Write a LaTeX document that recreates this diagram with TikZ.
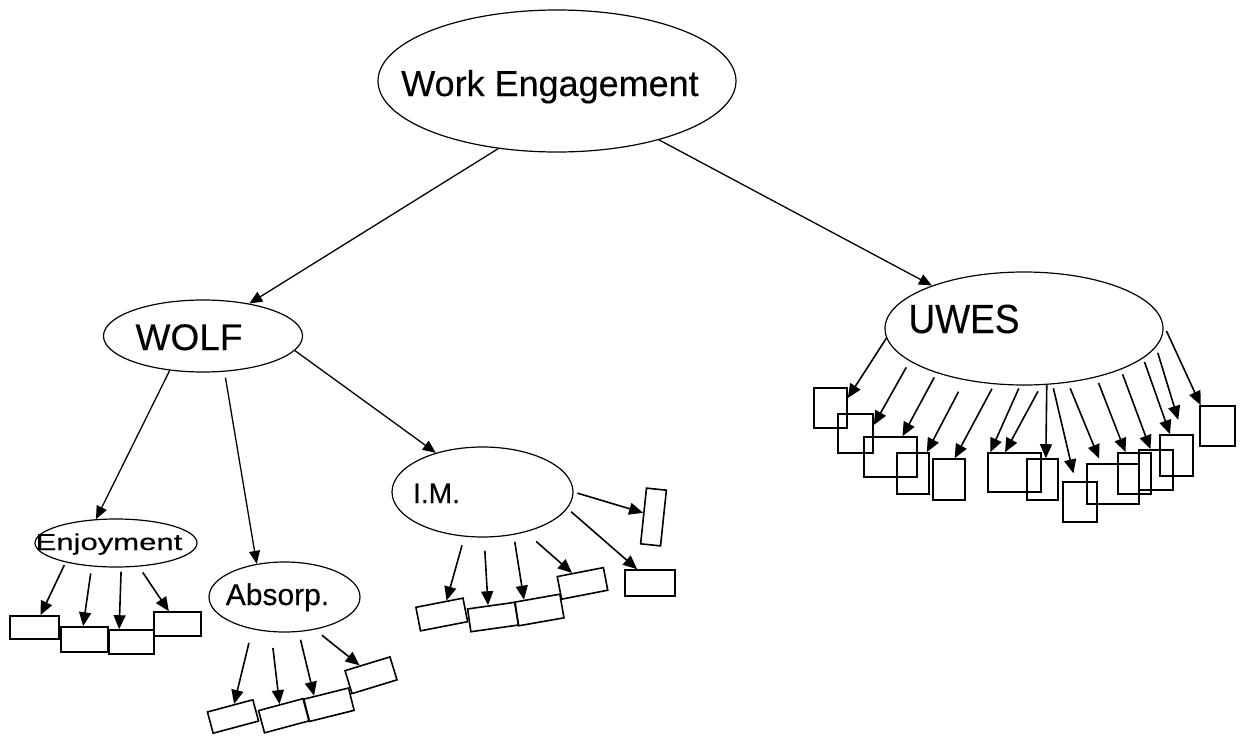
\documentclass[tikz,border=0pt]{standalone}
\usepackage{fontspec}
\setmainfont{Liberation Sans}[FakeBold=0.3]
\usepackage{tikz}
\usetikzlibrary{shapes,arrows.meta,positioning}

\tikzset{
  ell/.style={draw, ellipse, inner sep=0pt, line width=1.2pt},
  box/.style={draw, rectangle, inner sep=0pt, line width=1.6pt},
  arr/.style={-{Triangle[length=13pt,width=11pt]}, line width=1.3pt},
  subarr/.style={-{Triangle[length=14pt,width=12pt]}, line width=1.6pt},
  txt/.style={anchor=base, inner sep=0pt}
}

\begin{document}
\begin{tikzpicture}[x=1pt, y=-1pt]
\useasboundingbox (0,0) rectangle (1245,736);
% ellipses
\node[ell, minimum width=358pt, minimum height=142pt] (WE) at (557,81) {};
\node[txt, font=\fontsize{36}{40}\selectfont] (WEt) at (550,96) {Work Engagement};
\node[ell, minimum width=199pt, minimum height=72pt] (WOLF) at (203,336) {};
\node[txt, font=\fontsize{37}{40}\selectfont] (WOLFt) at (189,350) {WOLF};
\node[ell, minimum width=278pt, minimum height=113pt] (UWES) at (1024,328.5) {};
\node[txt] (UWESt) at (964,333) {\scalebox{1}[1.1]{\fontsize{37}{40}\selectfont UWES}};
\node[ell, minimum width=162pt, minimum height=48pt] (Enj) at (116,543) {};
\node[txt] (Enjt) at (109,550) {\scalebox{1.35}[1]{\fontsize{23}{26}\selectfont Enjoyment}};
\node[ell, minimum width=151pt, minimum height=70pt] (Abs) at (284.5,597) {};
\node[txt, font=\fontsize{30}{34}\selectfont] (Abst) at (277.5,605) {Absorp.};
\node[ell, minimum width=181pt, minimum height=90pt] (IM) at (482.5,492) {};
\node[txt, font=\fontsize{28}{32}\selectfont] (IMt) at (436.5,503) {I.M.};
% main arrows
\draw[arr] (WE.229) -- (WOLF.35);
\draw[arr] (WE.330) -- (UWES.155);
\draw[arr] (WOLF.226) -- (Enj.130);
\draw[arr, shorten <=6pt] (WOLF.301) -- (Abs.130);
\draw[arr] (WOLF.351) -- (IM.140);
% Enjoyment items
\node[box, minimum width=49pt, minimum height=23pt] (e1) at (34.5,627.5) {};
\node[box, minimum width=47pt, minimum height=25pt] (e2) at (84.5,639.5) {};
\node[box, minimum width=45pt, minimum height=24pt] (e3) at (131.5,642) {};
\node[box, minimum width=47pt, minimum height=24pt] (e4) at (177.5,624) {};
\draw[subarr, shorten <=3pt] (Enj.201) -- (e1.64);
\draw[subarr, shorten <=7pt] (Enj.224) -- (e2.96);
\draw[subarr, shorten <=4pt] (Enj.282) -- (e3.134);
\draw[subarr, shorten <=7pt] (Enj.314) -- (e4.124);
% Absorp. items
\node[box, minimum width=47pt, minimum height=22pt, rotate=15] (a1) at (233,716.5) {};
\node[box, minimum width=46pt, minimum height=23pt, rotate=15] (a2) at (283.75,715.75) {};
\node[box, minimum width=46pt, minimum height=23pt, rotate=14] (a3) at (329,704.75) {};
\node[box, minimum width=47pt, minimum height=24pt, rotate=17] (a4) at (371,675.25) {};
\draw[subarr, shorten <=14pt] (Abs.225) -- (a1.70);
\draw[subarr, shorten <=16pt] (Abs.249) -- (a2.95);
\draw[subarr, shorten <=8pt] (Abs.292) -- (a3.135);
\draw[subarr, shorten <=9pt] (Abs.313) -- (a4.122);
% I.M. items
\node[box, minimum width=48pt, minimum height=24pt, rotate=11] (m1) at (441.75,614.5) {};
\node[box, minimum width=48pt, minimum height=23pt, rotate=8] (m2) at (493,617) {};
\node[box, minimum width=46pt, minimum height=24pt, rotate=10] (m3) at (539.25,610) {};
\node[box, minimum width=47pt, minimum height=23pt, rotate=11] (m4) at (582.5,583.4) {};
\node[box, minimum width=20pt, minimum height=56pt, rotate=-6] (m5) at (653.5,517) {};
\node[box, minimum width=50pt, minimum height=26pt] (m6) at (650,583) {};
\draw[subarr, shorten <=9pt] (IM.248) -- (m1.60);
\draw[subarr, shorten <=13pt] (IM.272) -- (m2.105);
\draw[subarr, shorten <=7pt] (IM.306) -- (m3.136);
\draw[subarr, shorten <=14pt] (IM.317) -- (m4.124);
\draw[subarr, shorten <=4pt] (IM.0) -- (m5.164);
\draw[subarr, shorten <=5pt] (IM.349) -- (m6.133);
% UWES items
\node[box, minimum width=33pt, minimum height=40pt] (u1) at (830.5,408) {};
\node[box, minimum width=35pt, minimum height=39pt] (u2) at (855.5,433.5) {};
\node[box, minimum width=53pt, minimum height=40pt] (u3) at (890.5,457) {};
\node[box, minimum width=32pt, minimum height=41pt] (u4) at (913,473.5) {};
\node[box, minimum width=32pt, minimum height=41pt] (u5) at (949,479.5) {};
\node[box, minimum width=53pt, minimum height=39pt] (u6) at (1014.5,472.5) {};
\node[box, minimum width=31pt, minimum height=41pt] (u7) at (1042.5,479.5) {};
\node[box, minimum width=34pt, minimum height=40pt] (u8) at (1080,502) {};
\node[box, minimum width=52pt, minimum height=40pt] (u9) at (1113,484) {};
\node[box, minimum width=33pt, minimum height=41pt] (u10) at (1134.5,473.5) {};
\node[box, minimum width=34pt, minimum height=40pt] (u11) at (1156,470) {};
\node[box, minimum width=33pt, minimum height=41pt] (u12) at (1176.5,455.5) {};
\node[box, minimum width=35pt, minimum height=40pt] (u13) at (1217.5,426) {};
\draw[subarr] (UWES.184) -- (u1.30);
\draw[subarr, shorten <=7pt] (UWES.196) -- (u2.25);
\draw[subarr, shorten <=5pt] (UWES.207) -- (u3.60);
\draw[subarr, shorten <=13pt] (UWES.221) -- (u4.57);
\draw[subarr, shorten <=5pt] (UWES.242) -- (u5.75);
\draw[subarr, shorten <=3pt] (UWES.266) -- (u6.140);
\draw[subarr, shorten <=7pt] (UWES.287) -- (u6.115);
\draw[subarr] (UWES.292) -- (u7.81);
\draw[subarr, shorten <=4pt, shorten >=8pt] (UWES.297) -- (u8.103);
\draw[subarr, shorten <=6pt, shorten >=5pt] (UWES.309) -- (u9.120);
\draw[subarr, shorten <=6pt] (UWES.326) -- (u10.113);
\draw[subarr, shorten <=5pt] (UWES.337) -- (u11.105);
\draw[subarr, shorten <=4pt] (UWES.346) -- (u12.107);
\draw[subarr, shorten <=6pt, shorten >=15pt] (UWES.352) -- (u12.74);
\draw[subarr, shorten <=8pt] (UWES.2) -- (u13.129);
\end{tikzpicture}
\end{document}
